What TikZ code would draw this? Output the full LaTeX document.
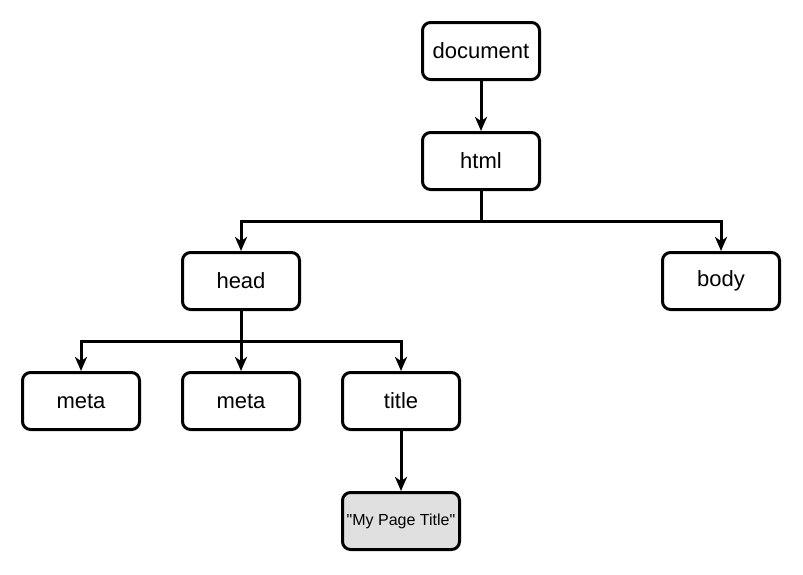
\documentclass[tikz,border=0pt]{standalone}
\usepackage{fontspec}
\setmainfont{Liberation Sans}[Ligatures=TeXOff]
\usetikzlibrary{arrows.meta}
\begin{document}
\begin{tikzpicture}[x=1pt,y=-1pt,
  box/.style={draw=black,line width=3pt,rounded corners=8pt,minimum width=117pt,minimum height=57pt,inner sep=0pt,font=\fontsize{22}{26}\selectfont,fill=white},
  leaf/.style={box,fill=black!12,font=\fontsize{16}{19}\selectfont},
  conn/.style={draw=black,line width=3pt,-{Stealth[length=14pt,width=12pt,inset=4pt]}}]
\useasboundingbox (0,0) rectangle (803,574);
\node[box] (doc) at (481,51) {document};
\node[box] (html) at (481,161) {html};
\node[box] (head) at (241,281) {head};
\node[box] (body) at (721,281) {body};
\node[box] (meta1) at (81,401) {meta};
\node[box] (meta2) at (241,401) {meta};
\node[box] (title) at (401,401) {title};
\node[leaf] (txt) at (401,521) {"My Page Title"};
\draw[conn] (doc) -- (html);
\draw[conn] (html.south) |- (481,221) -| (head.north);
\draw[conn] (html.south) |- (481,221) -| (body.north);
\draw[conn] (head.south) -- (meta2.north);
\draw[conn] (head.south) |- (241,341) -| (meta1.north);
\draw[conn] (head.south) |- (241,341) -| (title.north);
\draw[conn] (title) -- (txt);
\end{tikzpicture}
\end{document}
